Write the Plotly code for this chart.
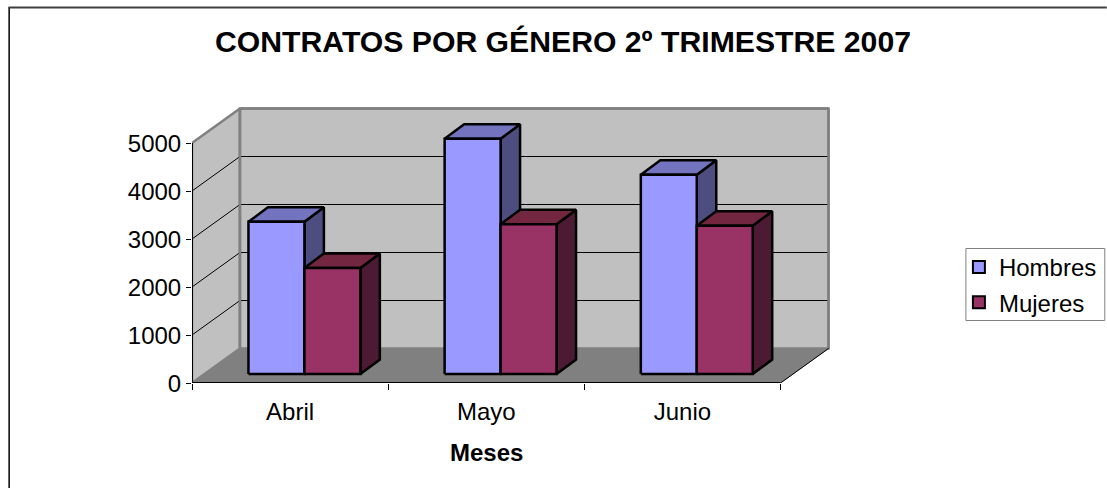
import plotly.graph_objects as go

categories = ["Abril", "Mayo", "Junio"]
hombres = [3170, 4900, 4150]
mujeres = [2210, 3120, 3090]
y_ticks = [0, 1000, 2000, 3000, 4000, 5000]
title_text = "CONTRATOS POR GÉNERO 2º TRIMESTRE 2007"
x_title = "Meses"

W, H = 1107, 488
X0, Y0 = 191.5, 383.0          # pixel of the origin
PX_CAT, PX_K = 196.33, 48.0    # pixels per category / per 1000
PLOT_R, PLOT_T = 835.0, 100.0


def ux(px):
    return px / PX_CAT


def uy(px):
    return px / PX_K * 1000


def paper_x(px):
    return (px - X0) / (PLOT_R - X0)


def paper_y(px):
    return (Y0 - px) / (Y0 - PLOT_T)


WALL_DX, WALL_DY = ux(48), uy(34.5)
BAR_L, BAR_W = ux(56.5), ux(56)
BAR_BASE = uy(9)
BAR_X_SHIFT, BAR_Y_SHIFT = ux(19.5), uy(14.5)
N = len(categories)
YMAX = y_ticks[-1]

fig = go.Figure()


def poly(xs, ys, fill=None, line="black", width=1, closed=True):
    if closed:
        xs = list(xs) + [xs[0]]
        ys = list(ys) + [ys[0]]
    fig.add_trace(go.Scatter(
        x=xs, y=ys, mode="lines", showlegend=False, hoverinfo="skip",
        fill="toself" if fill else "none", fillcolor=fill,
        line=dict(color=line, width=width, simplify=False)))


# real bars (supply the legend; the 3-D box faces are painted above them)
for name, vals, col, idx in [("Hombres", hombres, "#9999FF", 0), ("Mujeres", mujeres, "#993366", 1)]:
    fig.add_trace(go.Bar(
        x=[i + BAR_L + idx * BAR_W for i in range(N)], y=vals, base=BAR_BASE,
        width=BAR_W, offset=0, name=name, legendgroup=name,
        marker=dict(color=col, line=dict(color="black", width=2))))

# walls and floor
poly([0, WALL_DX, WALL_DX, 0], [0, WALL_DY, YMAX + WALL_DY, YMAX], fill="#C0C0C0", line="#808080", width=2.5)
poly([WALL_DX, N + WALL_DX, N + WALL_DX, WALL_DX], [WALL_DY, WALL_DY, YMAX + WALL_DY, YMAX + WALL_DY],
     fill="#C0C0C0", line="#808080", width=2.5)
poly([0, N, N + WALL_DX, WALL_DX], [0, 0, WALL_DY, WALL_DY], fill="#808080", line="#808080", width=1)

# gridlines
for t in y_ticks[1:-1]:
    poly([0, WALL_DX, N + WALL_DX], [t, t + WALL_DY, t + WALL_DY], closed=False)
poly([WALL_DX, N + WALL_DX], [YMAX + WALL_DY] * 2, line="#808080", width=2.5, closed=False)
poly([WALL_DX, WALL_DX], [WALL_DY, YMAX + WALL_DY], line="#808080", width=2.5, closed=False)
poly([N + WALL_DX, N + WALL_DX], [WALL_DY, YMAX + WALL_DY], line="#808080", width=2.5, closed=False)

# front plane lines
poly([0, 0], [0, YMAX], width=2, closed=False)
poly([0, N], [0, 0], width=2, closed=False)
poly([N, N + WALL_DX], [0, WALL_DY], width=1, closed=False)

# boxes
for i in range(N):
    for idx, vals, front, side, top in [
        (0, hombres, "#9999FF", "#4D4D80", "#7373BF"),
        (1, mujeres, "#993366", "#4C1A33", "#732640"),
    ]:
        l = i + BAR_L + idx * BAR_W
        r = l + BAR_W
        b = BAR_BASE
        t = BAR_BASE + vals[i]
        poly([r, r + BAR_X_SHIFT, r + BAR_X_SHIFT, r], [b, b + BAR_Y_SHIFT, t + BAR_Y_SHIFT, t], fill=side, width=2.5)
        poly([l, r, r + BAR_X_SHIFT, l + BAR_X_SHIFT], [t, t, t + BAR_Y_SHIFT, t + BAR_Y_SHIFT], fill=top, width=2.5)
        poly([l, r, r, l], [b, b, t, t], fill=front, width=2.5)

FONT = "Liberation Sans, Arial, sans-serif"
SZ = 24
fig.update_layout(
    width=W, height=H, autosize=False,
    paper_bgcolor="white", plot_bgcolor="white",
    margin=dict(l=X0, r=W - PLOT_R, t=PLOT_T, b=H - Y0, autoexpand=False),
    font=dict(family=FONT, size=SZ, color="black"),
    showlegend=True, barmode="overlay",
    title=dict(text="<b>%s</b>" % title_text, font=dict(size=30.2, color="black"),
               x=563 / W, xanchor="center", y=1 - 41 / H, yanchor="middle"),
    legend=dict(x=paper_x(959), y=paper_y(245), xanchor="left", yanchor="top",
                borderwidth=0, bgcolor="rgba(0,0,0,0)",
                font=dict(size=SZ), tracegroupgap=1, itemwidth=30),
    xaxis=dict(range=[0, ux(PLOT_R - X0)], tickmode="array",
               tickvals=[i + 0.5 for i in range(N)], ticktext=categories,
               ticks="", showgrid=False, zeroline=False, showline=False,
               ticklabelstandoff=12,
               minor=dict(tickmode="array", tickvals=list(range(N + 1)), ticks="outside",
                          ticklen=6, tickcolor="black", tickwidth=1, showgrid=False),
               tickfont=dict(size=SZ), automargin=False),
    yaxis=dict(range=[0, uy(Y0 - PLOT_T)], tickmode="array", tickvals=y_ticks,
               ticks="outside", ticklen=5, tickcolor="black", tickwidth=1,
               showgrid=False, zeroline=False, showline=False,
               ticklabelshift=1,
               tickfont=dict(size=SZ), automargin=False),
    annotations=[dict(text="<b>%s</b>" % x_title, xref="x", yref="paper",
                      x=N / 2, y=paper_y(452), showarrow=False,
                      xanchor="center", yanchor="middle", font=dict(size=SZ))],
    shapes=[
        dict(type="line", xref="paper", yref="paper", layer="below",
             x0=paper_x(8.5), x1=paper_x(8.5), y0=paper_y(7), y1=paper_y(488),
             line=dict(color="black", width=1.5)),
        dict(type="line", xref="paper", yref="paper", layer="below",
             x0=paper_x(8), x1=paper_x(1107), y0=paper_y(7.5), y1=paper_y(7.5),
             line=dict(color="#404040", width=2)),
        dict(type="rect", xref="paper", yref="paper", layer="above",
             x0=paper_x(966), x1=paper_x(1105), y0=paper_y(320.5), y1=paper_y(248.5),
             line=dict(color="#808080", width=1)),
    ],
)

fig.write_html("out.html", config=dict(displayModeBar=False),
               post_script="document.body.style.margin='0';document.documentElement.style.overflow='hidden';")
